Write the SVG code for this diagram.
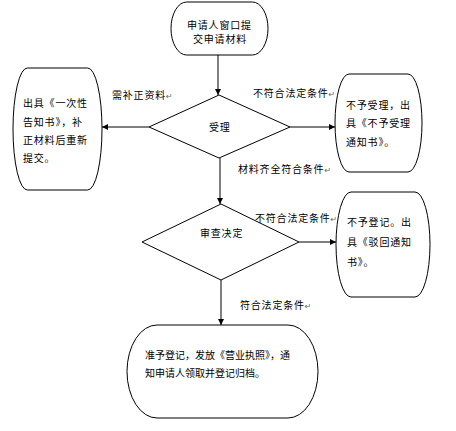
<svg xmlns="http://www.w3.org/2000/svg" width="456" height="431" viewBox="0 0 456 431">
<style>
  .shape { fill: #ffffff; stroke: #000000; stroke-width: 1; }
  .line { fill: none; stroke: #000000; stroke-width: 1; }
  text { font-family: "Noto Sans CJK SC", "DejaVu Sans", sans-serif; font-size: 10px; fill: #000000; letter-spacing: 0.8px; }
  .tight { letter-spacing: 0px; }
  .mark { fill: #666666; font-size: 8px; }
</style>
<defs>
  <marker id="arrow" viewBox="0 0 10 10" refX="10" refY="5" markerWidth="7" markerHeight="6" markerUnits="userSpaceOnUse" orient="auto">
    <path d="M0,0 L10,5 L0,10 Z" fill="#000000"/>
  </marker>
</defs>
<rect width="456" height="431" fill="#ffffff"/>

<g id="connectors">
  <line class="line" x1="218" y1="55" x2="218" y2="95" marker-end="url(#arrow)"/>
  <line class="line" x1="149" y1="127" x2="102" y2="127" marker-end="url(#arrow)"/>
  <line class="line" x1="290" y1="127" x2="335" y2="127" marker-end="url(#arrow)"/>
  <line class="line" x1="220" y1="158" x2="220" y2="204" marker-end="url(#arrow)"/>
  <line class="line" x1="299" y1="242" x2="336" y2="242" marker-end="url(#arrow)"/>
  <line class="line" x1="221" y1="280" x2="221" y2="325" marker-end="url(#arrow)"/>
  <text x="112" y="99">需补正资料<tspan class="mark">↵</tspan></text>
  <text x="253" y="97">不符合法定条件<tspan class="mark">↵</tspan></text>
  <text x="238" y="173">材料齐全符合条件<tspan class="mark">↵</tspan></text>
  <text x="255" y="222">不符合法定条件<tspan class="mark">↵</tspan></text>
  <text x="240" y="309">符合法定条件<tspan class="mark">↵</tspan></text>
</g>

<g id="node-apply">
  <rect class="shape" x="171" y="2" width="97" height="53" rx="15.6" ry="26.5"/>
  <text x="187" y="29">申请人窗口提</text>
  <text x="193" y="43">交申请材料</text>
</g>

<g id="node-accept">
  <polygon class="shape" points="219,95 290,127 219,158 149,127"/>
  <text x="209" y="131">受理</text>
</g>

<g id="node-supplement">
  <rect class="shape" x="13" y="68" width="89" height="122" rx="14.3" ry="61"/>
  <text x="23" y="107">出具《一次性</text>
  <text x="23" y="126">告知书》，补</text>
  <text x="23" y="144">正材料后重新</text>
  <text x="23" y="162">提交。</text>
</g>

<g id="node-reject-accept">
  <rect class="shape" x="335" y="74" width="87" height="98" rx="14" ry="49"/>
  <text x="346" y="109">不予受理，出</text>
  <text x="346" y="127">具《不予受理</text>
  <text x="346" y="146">通知书》。</text>
</g>

<g id="node-review">
  <polygon class="shape" points="221,204 299,242 221,280 142,242"/>
  <text x="200" y="237">审查决定</text>
</g>

<g id="node-reject-register">
  <rect class="shape" x="336" y="192" width="94" height="105" rx="15" ry="52.5"/>
  <text x="347" y="226">不予登记。出</text>
  <text x="347" y="246">具《驳回通知</text>
  <text x="347" y="266">书》。</text>
</g>

<g id="node-approve">
  <rect class="shape" x="127" y="325" width="191" height="93" rx="30" ry="46.5"/>
  <text class="tight" x="145" y="359">准予登记，发放《营业执照》，通</text>
  <text class="tight" x="145" y="377">知申请人领取并登记归档。</text>
</g>
</svg>
